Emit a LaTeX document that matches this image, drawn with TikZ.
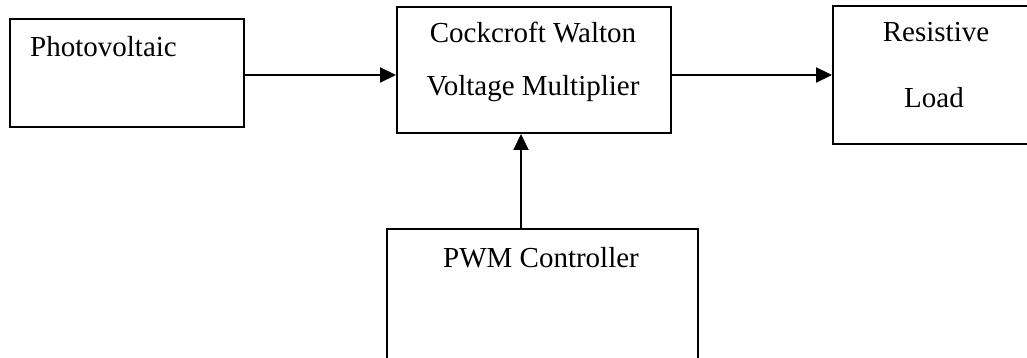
\documentclass[tikz,border=0pt]{standalone}
\usepackage{fontspec}
\setmainfont{Liberation Serif}
\usetikzlibrary{arrows.meta}
\tikzset{
  blk/.style={draw=black, line width=2pt, rectangle, inner sep=0pt, anchor=north west, fill=none},
  lbl/.style={inner sep=0pt, font=\fontsize{29}{35}\selectfont},
  arr/.style={line width=2.2pt, -{Triangle[length=16pt,width=15pt]}}
}
\begin{document}
\begin{tikzpicture}[x=1pt,y=-1pt]
\useasboundingbox (0,0) rectangle (1027,358);
\clip (0,0) rectangle (1027,358);
\fill[white] (0,0) rectangle (1027,358);
% boxes
\node[blk, minimum width=234pt, minimum height=108pt] (pv) at (9,18) {};
\node[blk, minimum width=274pt, minimum height=126pt] (cw) at (396,6) {};
\node[blk, minimum width=206pt, minimum height=138pt] (rl) at (832,5) {};
\node[blk, minimum width=311pt, minimum height=160pt] (pwm) at (386,228) {};
% labels
\node[lbl, anchor=base west] (tpv) at (30,57) {Photovoltaic};
\node[lbl, anchor=base] (tcw1) at (533,43) {Cockcroft Walton};
\node[lbl, anchor=base] (tcw2) at (533,96) {Voltage Multiplier};
\node[lbl, anchor=base] (trl1) at (936,42) {Resistive};
\node[lbl, anchor=base] (trl2) at (934,108) {Load};
\node[lbl, anchor=base] (tpwm) at (541,267) {PWM Controller};
% connectors
\coordinate (ay) at (0,75);
\coordinate (ax) at (521,0);
\draw[arr] (pv.east |- ay) -- (cw.west |- ay);
\draw[arr] (cw.east |- ay) -- (rl.west |- ay);
\draw[arr] (pwm.north -| ax) -- (cw.south -| ax);
\end{tikzpicture}
\end{document}
